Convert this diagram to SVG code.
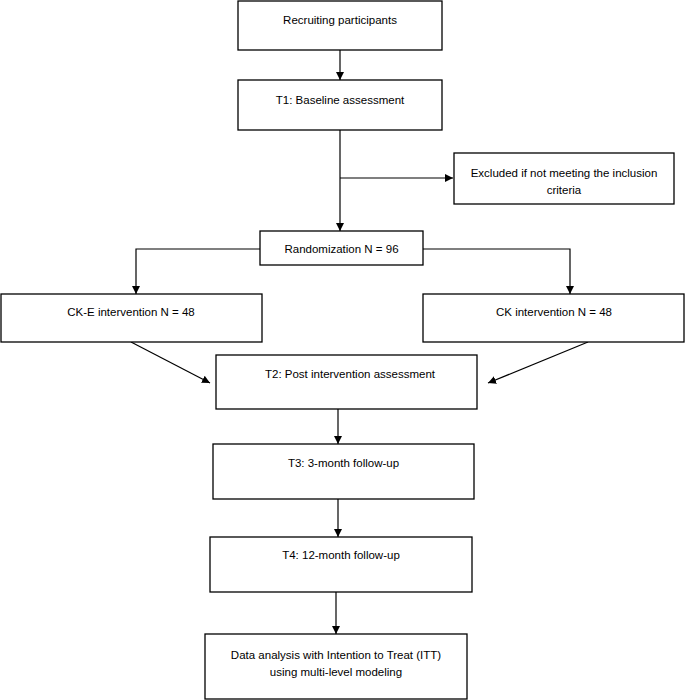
<svg xmlns="http://www.w3.org/2000/svg" width="685" height="700" viewBox="0 0 685 700">
<style>
.box{fill:#fff;stroke:#000;stroke-width:1.3}
.t{font-family:"Liberation Sans",Arial,sans-serif;font-size:11.5px;fill:#000;text-anchor:middle}
.c{fill:none;stroke:#000;stroke-width:1.2}
</style>
<defs>
<marker id="ah" markerWidth="9" markerHeight="9" refX="8" refY="4" orient="auto" markerUnits="userSpaceOnUse">
<path d="M0,0 L8,4 L0,8 Z" fill="#000"/>
</marker>
</defs>
<rect width="685" height="700" fill="#fff"/>
<g id="connectors">
<path class="c" d="M340,50 V80" marker-end="url(#ah)"/>
<path class="c" d="M340,130 V231" marker-end="url(#ah)"/>
<path class="c" d="M340,178 H453" marker-end="url(#ah)"/>
<path class="c" d="M260,249 H136 V294" marker-end="url(#ah)"/>
<path class="c" d="M423,249 H570 V294" marker-end="url(#ah)"/>
<path class="c" d="M131,342 L210,383" marker-end="url(#ah)"/>
<path class="c" d="M588,342 L488,383" marker-end="url(#ah)"/>
<path class="c" d="M338,409 V444" marker-end="url(#ah)"/>
<path class="c" d="M338,499 V537" marker-end="url(#ah)"/>
<path class="c" d="M336,592 V634" marker-end="url(#ah)"/>
</g>
<g id="recruiting"><rect class="box" x="238" y="1" width="204" height="49"/><text class="t" x="340" y="24">Recruiting participants</text></g>
<g id="t1"><rect class="box" x="238" y="80" width="204" height="50"/><text class="t" x="340" y="104">T1: Baseline assessment</text></g>
<g id="excluded"><rect class="box" x="454" y="153" width="220" height="51"/><text class="t" x="564" y="177">Excluded if not meeting the inclusion</text><text class="t" x="564" y="194">criteria</text></g>
<g id="randomization"><rect class="box" x="260" y="231" width="163" height="34"/><text class="t" x="341.5" y="253">Randomization N = 96</text></g>
<g id="cke"><rect class="box" x="1" y="294" width="261" height="48"/><text class="t" x="131" y="316">CK-E intervention N = 48</text></g>
<g id="ck"><rect class="box" x="423" y="294" width="261" height="48"/><text class="t" x="554" y="316">CK intervention N = 48</text></g>
<g id="t2"><rect class="box" x="216" y="355" width="261" height="54"/><text class="t" x="350" y="378">T2: Post intervention assessment</text></g>
<g id="t3"><rect class="box" x="213" y="444" width="261" height="55"/><text class="t" x="343.5" y="467">T3: 3-month follow-up</text></g>
<g id="t4"><rect class="box" x="210" y="537" width="262" height="55"/><text class="t" x="341" y="559">T4: 12-month follow-up</text></g>
<g id="analysis"><rect class="box" x="205" y="634" width="262" height="65"/><text class="t" x="336" y="659">Data analysis with Intention to Treat (ITT)</text><text class="t" x="336" y="676">using multi-level modeling</text></g>
</svg>
